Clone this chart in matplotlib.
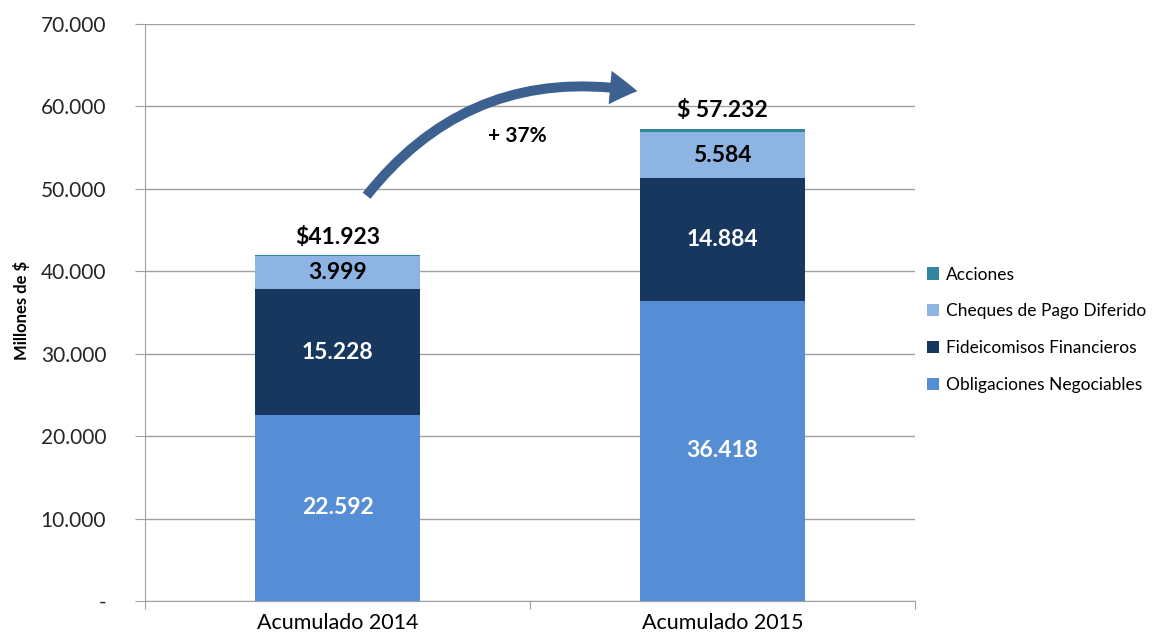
import numpy as np
import matplotlib.pyplot as plt
from matplotlib.patches import FancyArrowPatch

plt.rcParams['font.family'] = ['Lato', 'DejaVu Sans']

categorias = ["Acumulado 2014", "Acumulado 2015"]
obligaciones = [22592, 36418]
fideicomisos = [15228, 14884]
cheques = [3999, 5584]
acciones = [104, 346]
totales = ["$41.923", "$ 57.232"]
variacion = "+ 37%"
y_ticks = [0, 10000, 20000, 30000, 40000, 50000, 60000, 70000]
y_tick_labels = ["-", "10.000", "20.000", "30.000", "40.000", "50.000", "60.000", "70.000"]

series = [
    ("Obligaciones Negociables", obligaciones, "#558ED5", "white"),
    ("Fideicomisos Financieros", fideicomisos, "#17375E", "white"),
    ("Cheques de Pago Diferido", cheques, "#8EB4E3", "black"),
    ("Acciones", acciones, "#31859C", None),
]

fig = plt.figure(figsize=(11.53, 6.38), dpi=100)
ax = fig.add_axes([0.1258, 0.058, 0.6678, 0.9044])

x = np.arange(len(categorias))
bottom = np.zeros(len(categorias))
handles = []
for name, vals, color, txtcol in series:
    vals = np.array(vals, dtype=float)
    b = ax.bar(x, vals, 0.43, bottom=bottom, color=color, label=name, zorder=3)
    handles.append(b)
    if txtcol is not None:
        for i in range(len(x)):
            ax.text(x[i], bottom[i] + vals[i] / 2, f"{int(vals[i]):,}".replace(",", "."),
                    ha="center", va="center", color=txtcol, fontsize=16.5,
                    fontweight="bold", zorder=4)
    bottom += vals

for i in range(len(x)):
    ax.text(x[i], bottom[i] + 950, totales[i], ha="center", va="bottom",
            fontsize=16.5, fontweight="bold", color="black")

# flecha de crecimiento
arrow = FancyArrowPatch((0.071, 48900), (0.786, 61800),
                        connectionstyle="arc3,rad=-0.3",
                        arrowstyle="simple,head_width=2.2,head_length=1.8,tail_width=0.65",
                        mutation_scale=11, color="#3C6190", lw=0, zorder=5)
ax.add_patch(arrow)
ax.text(0.466, 56400, variacion, ha="center", va="center", fontsize=15,
        fontweight="bold", color="black")

ax.set_xlim(-0.5, 1.5)
ax.set_ylim(0, 70000)
ax.set_yticks(y_ticks)
ax.set_yticklabels(y_tick_labels, fontsize=15, color="#262626")
ax.set_xticks([-0.5, 0.5, 1.5])
ax.set_xticklabels([])
ax.set_xticks(x, minor=True)
ax.set_xticklabels(categorias, minor=True, fontsize=15.5, color="black")
ax.tick_params(axis="x", which="minor", length=0, pad=9)
ax.tick_params(axis="x", which="major", length=6, color="#A0A0A0")
ax.tick_params(axis="y", length=7, color="#A0A0A0", pad=21)

ax.yaxis.grid(True, color="#A0A0A0", lw=1, zorder=0)
ax.set_axisbelow(True)
for s in ["top", "right"]:
    ax.spines[s].set_visible(False)
for s in ["left", "bottom"]:
    ax.spines[s].set_color("#A0A0A0")

fig.text(0.019, 0.513, "Millones de $", rotation=90, ha="center", va="center",
         fontsize=12, fontweight="bold")

ax.legend(handles[::-1], [s[0] for s in series][::-1], loc="center left",
          bbox_to_anchor=(0.995, 0.47), frameon=False, fontsize=12.5,
          handlelength=0.7, handleheight=0.7, handletextpad=0.4, labelspacing=1.2)

fig.savefig("out.png", dpi=100)
